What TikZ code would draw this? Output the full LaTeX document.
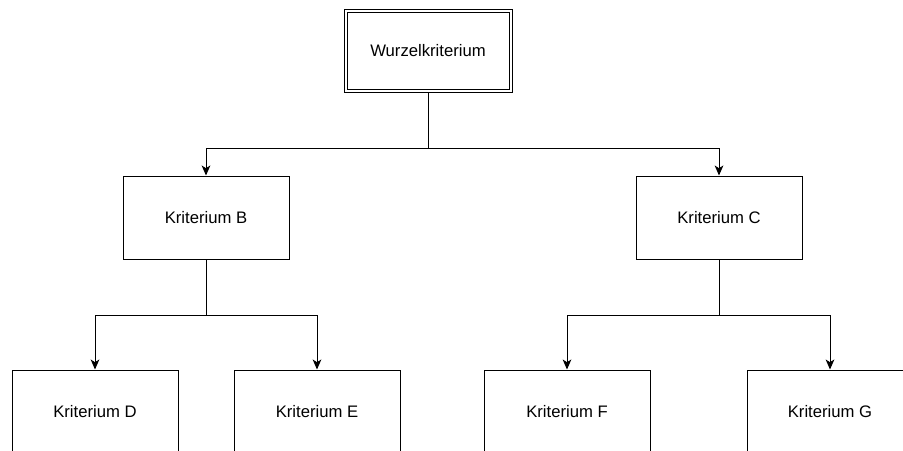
\documentclass[tikz,border=0pt]{standalone}
\usepackage{fontspec}
\setmainfont{Liberation Sans}
\usetikzlibrary{arrows.meta,backgrounds}
\begin{document}
\begin{tikzpicture}[x=0.75pt,y=-0.75pt,
  font=\fontsize{12.5pt}{15pt}\selectfont,
  crit/.style={draw=black, fill=white, rectangle, line width=0.75pt,
    minimum width=124.5pt, minimum height=62.25pt, inner sep=0pt},
  rootbox/.style={crit, double, double distance=1.5pt,
    minimum width=123.75pt, minimum height=60pt},
  wire/.style={draw=black, line width=0.75pt},
  link/.style={wire, -{Stealth[length=7.5pt,width=6.5pt,inset=2pt]}}]
  \path[use as bounding box] (0,0) rectangle (903,450);
  \clip (0,0) rectangle (903,450);

  % criteria tree
  \node[rootbox] (root) at (428,50.5) {Wurzelkriterium};
  \node[crit] (B) at (206,217.5) {Kriterium B};
  \node[crit] (C) at (719,217.5) {Kriterium C};
  \node[crit] (D) at (95,411.5) {Kriterium D};
  \node[crit] (E) at (317,411.5) {Kriterium E};
  \node[crit] (F) at (567,411.5) {Kriterium F};
  \node[crit] (G) at (830,411.5) {Kriterium G};

  % branch points of the orthogonal connectors
  \coordinate (rj) at (428,148);
  \coordinate (bj) at (206,315);
  \coordinate (cj) at (719,315);

  \begin{scope}[on background layer]
    \draw[wire] (root.south) -- (rj);
    \draw[link] (rj) -| (B.north);
    \draw[link] (rj) -| (C.north);
    \draw[wire] (B.south) -- (bj);
    \draw[link] (bj) -| (D.north);
    \draw[link] (bj) -| (E.north);
    \draw[wire] (C.south) -- (cj);
    \draw[link] (cj) -| (F.north);
    \draw[link] (cj) -| (G.north);
  \end{scope}
\end{tikzpicture}
\end{document}
